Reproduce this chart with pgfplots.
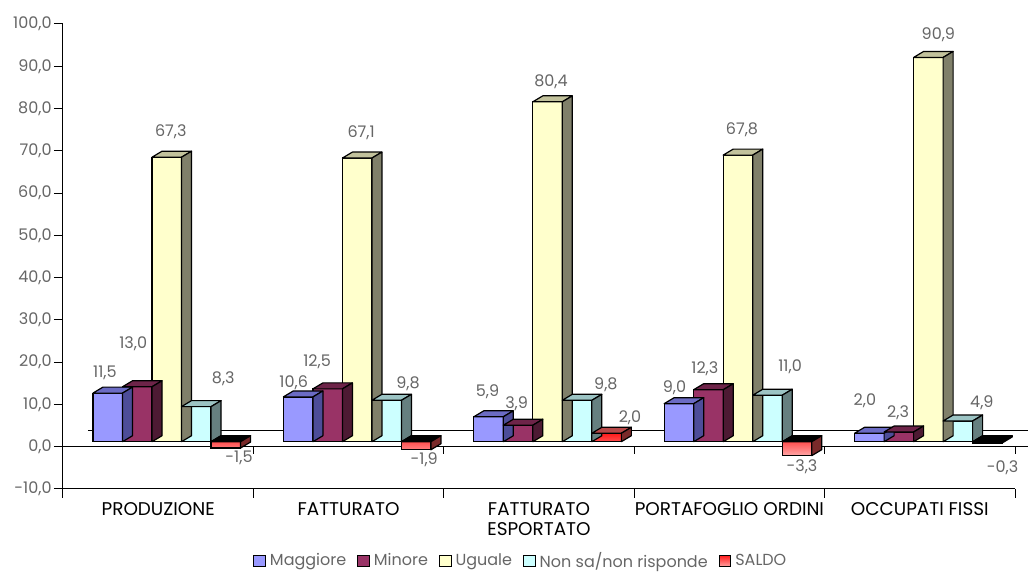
\documentclass[border=0pt]{standalone}
\usepackage{fontspec}
\setmainfont{Poppins}
\usepackage{pgfplots}
\pgfplotsset{compat=1.18}
\usepackage{pgfplotstable}
\pgfdeclareplotmark{emptymark}{}

\definecolor{magF}{HTML}{9999FF}
\definecolor{magT}{HTML}{6B6BC4}
\definecolor{magS}{HTML}{4D4D99}
\definecolor{minF}{HTML}{993366}
\definecolor{minT}{HTML}{6E2449}
\definecolor{minS}{HTML}{4D1A33}
\definecolor{ugF}{HTML}{FFFFCC}
\definecolor{ugT}{HTML}{C2C29C}
\definecolor{ugS}{HTML}{80806A}
\definecolor{nsF}{HTML}{CCFFFF}
\definecolor{nsT}{HTML}{9CC4C4}
\definecolor{nsS}{HTML}{668080}
\definecolor{saF}{HTML}{FF1A1A}
\definecolor{saB}{HTML}{FFA8A8}
\definecolor{saT}{HTML}{B84848}
\definecolor{saS}{HTML}{7A2A2A}
\definecolor{lblgray}{HTML}{666666}

% Series: x = category + offset, y = value
\pgfplotstableread{
x y
-0.265 11.5
0.735 10.6
1.735 5.9
2.735 9.0
3.735 2.0
}\tabMag
\pgfplotstableread{
x y
-0.110 13.0
0.890 12.5
1.890 3.9
2.890 12.3
3.890 2.3
}\tabMin
\pgfplotstableread{
x y
0.045 67.3
1.045 67.1
2.045 80.4
3.045 67.8
4.045 90.9
}\tabUg
\pgfplotstableread{
x y
0.200 8.3
1.200 9.8
2.200 9.8
3.200 11.0
4.200 4.9
}\tabNs
\pgfplotstableread{
x y
0.355 -1.5
1.355 -1.9
2.355 2.0
3.355 -3.3
4.355 -0.3
}\tabSa
% data labels: position offsets (pt) from the data point
\pgfplotstableread{
x y lx ly
-0.265 11.5 -1.4 12.7
-0.110 13.0 -2.0 24.2
0.045 67.3 2.0 15.2
0.200 8.3 13.5 16.6
0.355 -1.5 6.6 -2.5
0.735 10.6 -2.2 9.8
0.890 12.5 -5.3 16.1
1.045 67.1 2.0 15.2
1.200 9.8 10.7 11.0
1.355 -1.9 4.0 -2.3
1.735 5.9 -0.5 15.0
1.890 3.9 -0.7 13.0
2.045 80.4 1.7 12.3
2.200 9.8 14.4 10.2
2.355 2.0 11.7 10.5
2.735 9.0 -2.2 10.7
2.890 12.3 -1.8 12.9
3.045 67.8 2.0 15.2
3.200 11.0 11.3 16.8
3.355 -3.3 2.5 -3.0
3.735 2.0 -2.2 18.8
3.890 2.3 -0.4 12.3
4.045 90.9 5.0 13.8
4.200 4.9 12.0 11.4
4.355 -0.3 7.6 -9.7
}\tabLbl

\pgfplotsset{
  mybar/.style={ybar, bar width=0.155, bar shift=0pt, draw=black,
    line width=0.6pt, yshift=2.5pt,
    legend image code/.code={\draw[##1,draw=black,line width=0.5pt,yshift=-2.5pt] (0pt,-2.9pt) rectangle (5.8pt,2.9pt);}},
  deco/.style n args={3}{forget plot, only marks, mark=emptymark, scatter,
    visualization depends on={\thisrow{y} \as \val},
    scatter/@pre marker code/.code={%
      \pgfmathsetmacro\ytop{(max(\val,0)-\val)*2.11364+2.5}%
      \pgfmathsetmacro\ybot{(min(\val,0)-\val)*2.11364+2.5}%
      \pgfmathsetmacro\ybotb{\ybot+3}%
      \ifdim\val pt<0pt \def\tc{#3}\else\def\tc{#1}\fi
      \path[fill=\tc,draw=black,line width=0.6pt,line join=round]
        (-7.38pt,\ytop pt) -- ++(5pt,3pt) -- ++(14.76pt,0pt) -- ++(-5pt,-3pt) -- cycle;
      \path[fill=#2,draw=black,line width=0.6pt,line join=round]
        (7.38pt,\ytop pt) -- ++(5pt,3pt) -- (12.38pt,\ybotb pt) -- (7.38pt,\ybot pt) -- cycle;
    },
    scatter/@post marker code/.code={}},
}

\begin{document}
\begin{tikzpicture}
\useasboundingbox (-31.5pt,-41.5pt) rectangle (482.5pt,244.5pt);
\begin{axis}[
  at={(0pt,0pt)}, anchor=south west,
  scale only axis, width=476pt, height=232.5pt,
  xmin=-0.5, xmax=4.5, ymin=-10, ymax=100,
  clip=false,
  axis x line*=bottom, axis y line*=left,
  x axis line style={-}, y axis line style={-},
  axis line style={line width=0.5pt},
  tick align=outside,
  major tick length=4.5pt,
  tick style={line width=0.5pt, black},
  ytick={-10,0,10,20,30,40,50,60,70,80,90,100},
  yticklabel style={text=lblgray, font=\fontsize{8}{9}\selectfont, inner sep=1pt,
    /pgf/number format/.cd, fixed, fixed zerofill, precision=1, use comma, assume math mode=true},
  xtick={-0.5,0.5,1.5,2.5,3.5,4.5},
  xticklabels={{},{},{},{},{},{}},
  extra x ticks={0,1,2,3,4},
  extra x tick labels={PRODUZIONE,FATTURATO,{FATTURATO\\ESPORTATO},PORTAFOGLIO ORDINI,OCCUPATI FISSI},
  extra x tick style={major tick length=0pt,
    tick label style={align=center, text=black, font=\fontsize{9.2}{10}\selectfont, yshift=-3pt}},
  legend style={at={(0.482,-0.155)}, anchor=center, legend columns=-1, draw=none, fill=none,
    font=\fontsize{8}{9}\selectfont, text=lblgray, inner sep=0pt,
    /tikz/every even column/.append style={column sep=3.5pt}},
]
% floor lines and ticks at the zero level
\draw[line width=0.5pt] (axis cs:-0.5,0) -- (axis cs:4.568,0);
\draw[line width=0.5pt] (axis cs:-0.369,3.83) -- (axis cs:4.568,3.83);
\pgfplotsinvokeforeach{0.5,1.5,2.5,3.5,4.5}{\draw[line width=0.5pt] (axis cs:#1,0) -- ++(0pt,-3.7pt);}

\addplot[mybar, fill=magF] table[x=x,y=y] {\tabMag};
\addlegendentry{Maggiore}
\addplot[deco={magT}{magS}{black}] table[x=x,y=y] {\tabMag};
\addplot[mybar, fill=minF] table[x=x,y=y] {\tabMin};
\addlegendentry{Minore}
\addplot[deco={minT}{minS}{black}] table[x=x,y=y] {\tabMin};
\addplot[mybar, fill=ugF] table[x=x,y=y] {\tabUg};
\addlegendentry{Uguale}
\addplot[deco={ugT}{ugS}{black}] table[x=x,y=y] {\tabUg};
\addplot[mybar, fill=nsF] table[x=x,y=y] {\tabNs};
\addlegendentry{Non sa/non risponde}
\addplot[deco={nsT}{nsS}{black}] table[x=x,y=y] {\tabNs};
\addplot[mybar, top color=saF, bottom color=saB] table[x=x,y=y] {\tabSa};
\addlegendentry{SALDO}
\addplot[deco={saT}{saS}{black}] table[x=x,y=y] {\tabSa};

\addplot[draw=none, forget plot, nodes near coords,
  point meta=explicit,
  visualization depends on={\thisrow{lx} \as \lx},
  visualization depends on={\thisrow{ly} \as \ly},
  nodes near coords={\pgfmathprintnumber[fixed,fixed zerofill,precision=1,use comma,assume math mode=true]{\pgfplotspointmeta}},
  every node near coord/.append style={anchor=center, xshift=\lx pt, yshift=\ly pt,
    text=lblgray, font=\fontsize{8}{9}\selectfont, inner sep=0pt}]
  table[x=x,y=y,meta=y] {\tabLbl};
\end{axis}
\end{tikzpicture}
\end{document}
